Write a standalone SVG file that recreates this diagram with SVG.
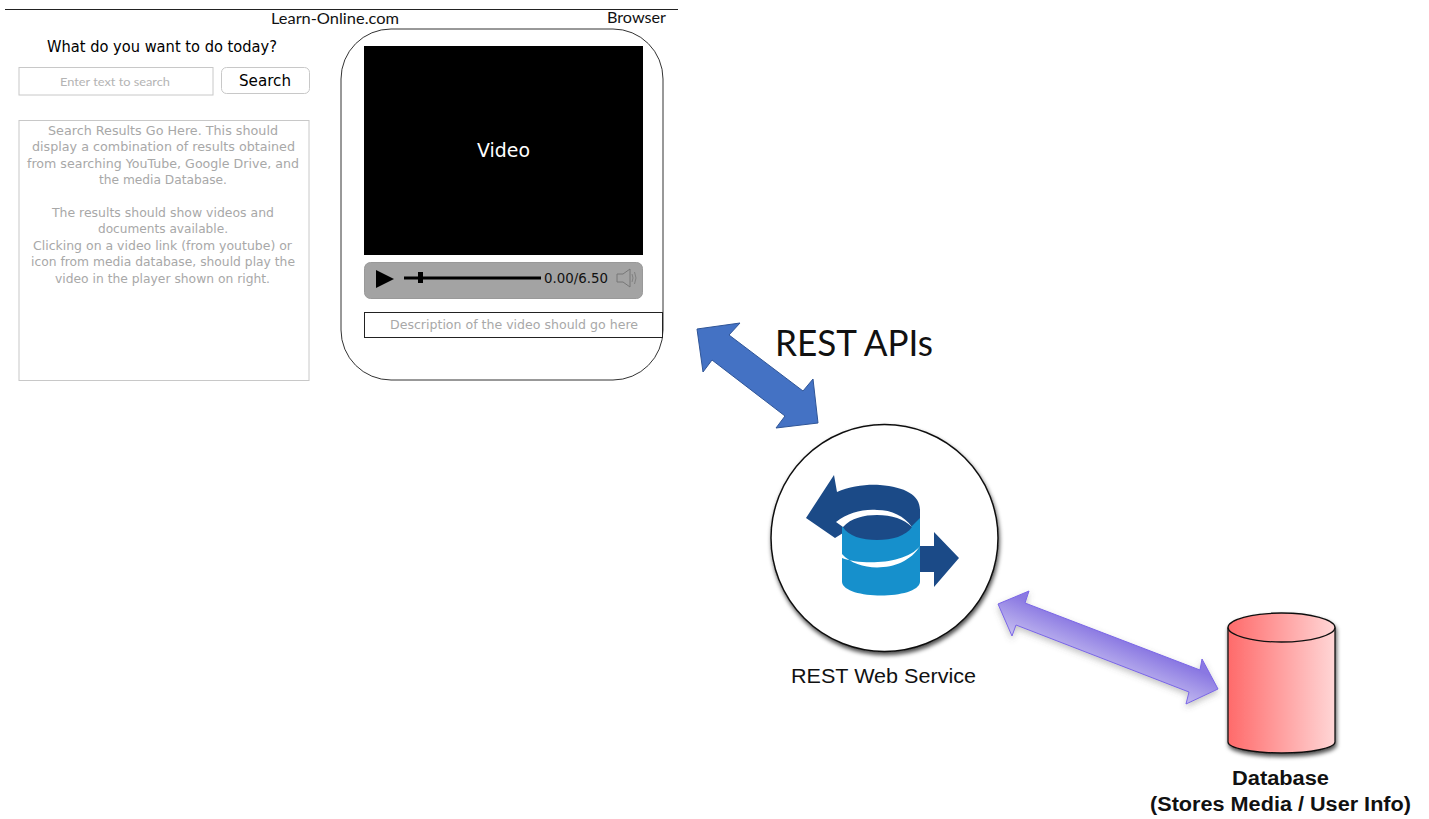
<svg xmlns="http://www.w3.org/2000/svg" width="1429" height="819" viewBox="0 0 1429 819">
<style>
.c{font-family:"DejaVu Sans","Open Sans",sans-serif}
.l{font-family:Lato,"Open Sans",sans-serif;fill:#111}
.a{font-family:"Liberation Sans",Arial,sans-serif;fill:#111}
.g{fill:#a8a8a8;font-size:12.5px}
.dk{fill:#1b4a87}
.lt{fill:#1690cc}
</style>
<defs>
<linearGradient id="pg" gradientUnits="userSpaceOnUse" x1="1114" y1="636" x2="1100" y2="670"><stop offset="0" stop-color="#8a78e2"/><stop offset="1" stop-color="#c4bcf0"/></linearGradient>
<linearGradient id="rg" x1="0" y1="0" x2="1" y2="0"><stop offset="0" stop-color="#ff6a6a"/><stop offset="1" stop-color="#ffd6d6"/></linearGradient>
<filter id="sh" x="-20%" y="-20%" width="140%" height="140%"><feDropShadow dx="1" dy="3" stdDeviation="2" flood-color="#000" flood-opacity="0.7"/></filter>
<filter id="sh2" x="-20%" y="-40%" width="140%" height="180%"><feDropShadow dx="0" dy="3" stdDeviation="3" flood-color="#555" flood-opacity="0.35"/></filter>
</defs>
<g id="browser">
<line x1="5" y1="9.500" x2="678" y2="9.500" stroke="#222" stroke-width="1"/>
<text class="l" x="271" y="24" font-size="15.500" textLength="128" lengthAdjust="spacingAndGlyphs">Learn-Online.com</text>
<text class="l" x="607" y="23" font-size="15.500" textLength="59" lengthAdjust="spacingAndGlyphs">Browser</text>
</g>
<g id="search">
<text class="c" x="47" y="52" font-size="15" fill="#000" textLength="230" lengthAdjust="spacingAndGlyphs">What do you want to do today?</text>
<rect x="19" y="67.500" width="194" height="27.500" fill="#fff" stroke="#c8c8c8"/>
<text x="60" y="86" font-family="Lato,'Open Sans',sans-serif" font-size="12" fill="#b4b4b4" textLength="110" lengthAdjust="spacingAndGlyphs">Enter text to search</text>
<rect x="221.500" y="67.500" width="88" height="26" rx="5" fill="#fff" stroke="#c8c8c8"/>
<text class="c" x="239" y="86" font-size="15.500" fill="#000" textLength="52" lengthAdjust="spacingAndGlyphs">Search</text>
</g>
<g id="results">
<rect x="19" y="120.500" width="290" height="260" fill="#fff" stroke="#c8c8c8"/>
<g class="c g">
<text x="48" y="135" textLength="230" lengthAdjust="spacingAndGlyphs">Search Results Go Here. This should</text>
<text x="32" y="151" textLength="263" lengthAdjust="spacingAndGlyphs">display a combination of  results obtained</text>
<text x="27" y="168" textLength="272" lengthAdjust="spacingAndGlyphs">from searching YouTube, Google Drive, and</text>
<text x="99" y="184" textLength="128" lengthAdjust="spacingAndGlyphs">the media Database.</text>
<text x="52" y="217" textLength="222" lengthAdjust="spacingAndGlyphs">The results should show videos and</text>
<text x="98" y="233" textLength="130" lengthAdjust="spacingAndGlyphs">documents available.</text>
<text x="33" y="250" textLength="259" lengthAdjust="spacingAndGlyphs">Clicking on a video link (from youtube) or</text>
<text x="31" y="266" textLength="264" lengthAdjust="spacingAndGlyphs">icon from media database, should play the</text>
<text x="55" y="283" textLength="215" lengthAdjust="spacingAndGlyphs">video in the player shown on right.</text>
</g>
</g>
<g id="player">
<rect x="341" y="29" width="322" height="351" rx="50" fill="#fff" stroke="#333"/>
<rect x="364" y="46" width="279" height="209" fill="#000"/>
<text class="c" x="477" y="157" font-size="19" fill="#fff" textLength="53" lengthAdjust="spacingAndGlyphs">Video</text>
<rect x="364.500" y="262.500" width="278" height="36" rx="6" fill="#a3a3a3" stroke="#999"/>
<path d="M376 270L394 279L376 288Z" fill="#000"/>
<line x1="404" y1="278" x2="541" y2="278" stroke="#000" stroke-width="3"/>
<rect x="418" y="272" width="5" height="11" fill="#000"/>
<text class="c" x="544" y="282.500" font-size="13.500" fill="#111" textLength="64" lengthAdjust="spacingAndGlyphs">0.00/6.50</text>
<path d="M617 274H623L630 269V287L623 282H617Z" fill="none" stroke="#777"/>
<path d="M632 274Q634 278 632 282M634.500 272Q637.500 278 634.500 284" fill="none" stroke="#777" stroke-width="0.800"/>
<rect x="364.500" y="312.500" width="298" height="25" fill="#fff" stroke="#222"/>
<text class="c g" x="390" y="329" textLength="248" lengthAdjust="spacingAndGlyphs">Description of the video should go here</text>
</g>
<g id="connectors">
<path d="M697 329L740 323L729 335L803 391L813 379L818 423L776 428L785 416L712 360L703 372Z" fill="#4472c4" stroke="#2f5597"/>
<path d="M998 604L1029 591L1025 603L1200 670L1202 659L1218 689L1186 704L1189 692L1016 625L1012 636Z" fill="url(#pg)" stroke="#7a66e6" filter="url(#sh2)"/>
</g>
<text class="l" x="775" y="356" font-size="36" textLength="158" lengthAdjust="spacingAndGlyphs">REST APIs</text>
<g id="rest-service">
<circle cx="884.500" cy="538" r="113.500" fill="#fff" stroke="#111" stroke-width="1.500" filter="url(#sh)"/>
<path class="dk" d="M806 518L834 475L837 492C850 486 868 484 880 485C905 487 920 495 920 510V530H843V533L835 538Z"/>
<path class="dk" d="M920 546H934V532L959 558L934 587V572H920Z"/>
<path class="lt" d="M842 527C860 530 900 530 912 526L920 518V582C918 600 844 600 842 582Z"/>
<path class="dk" d="M843 527C850 518 865 515 877 515C893 515 906 519 912 527C906 536 892 540 877 540C862 540 848 536 843 527Z"/>
<path d="M836 522C848 513 862 509 877 510C892 510 904 516 912 527C904 519 892 515 877 515C864 515 851 518 843 527Z" fill="#fff"/>
<path d="M842 554C860 574 905 572 920 546C905 565 860 565 842 558Z" fill="#fff"/>
<text class="a" x="791" y="683" font-size="20" textLength="185" lengthAdjust="spacingAndGlyphs">REST Web Service</text>
</g>
<g id="database">
<path d="M1228 627.500V742C1228 748 1252 753 1281.500 753C1311 753 1335 748 1335 742V627.500C1335 620 1311 613 1281.500 613C1252 613 1228 620 1228 627.500Z" fill="url(#rg)" stroke="#111" stroke-width="1.300" filter="url(#sh)"/>
<path d="M1228 627.500C1228 635 1252 642 1281.500 642C1311 642 1335 635 1335 627.500" fill="none" stroke="#111" stroke-width="1.300"/>
<text class="a" x="1232" y="785" font-size="20" font-weight="bold" textLength="97" lengthAdjust="spacingAndGlyphs">Database</text>
<text class="a" x="1150" y="811" font-size="20" font-weight="bold" textLength="261" lengthAdjust="spacingAndGlyphs">(Stores Media / User Info)</text>
</g>
</svg>
